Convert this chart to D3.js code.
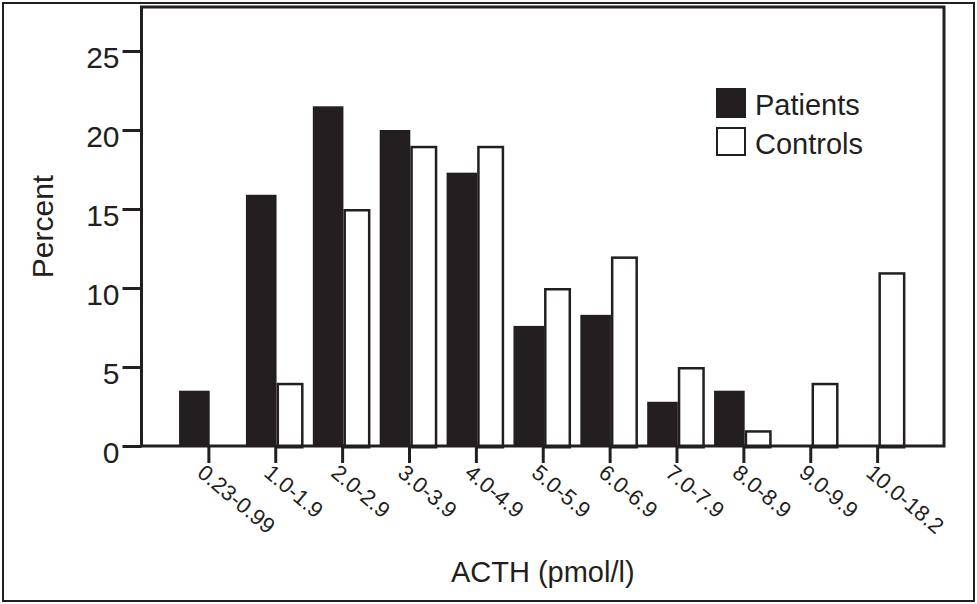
<!DOCTYPE html>
<html>
<head>
<meta charset="utf-8">
<script src="https://cdn.jsdelivr.net/npm/d3@7"></script>
<style>
  body { margin: 0; background: #fff; }
  svg { display: block; font-family: "Liberation Sans", Arial, Helvetica, sans-serif; }
</style>
</head>
<body>
<svg id="chart" width="977" height="604"></svg>
<script>
// ACTH 구간별 분포 (값은 그림에서 읽은 추정치)
const categories = ["0.23-0.99", "1.0-1.9", "2.0-2.9", "3.0-3.9", "4.0-4.9", "5.0-5.9",
                    "6.0-6.9", "7.0-7.9", "8.0-8.9", "9.0-9.9", "10.0-18.2"];
const patients = [3.5, 15.9, 21.5, 20.0, 17.3, 7.6, 8.3, 2.8, 3.5, 0, 0];
const controls = [0, 4.0, 15.0, 19.0, 19.0, 10.0, 12.0, 5.0, 1.0, 4.0, 11.0];
const seriesNames = ["Patients", "Controls"];
const yTicks = [0, 5, 10, 15, 20, 25];

const ink = "#231f20";
const svg = d3.select("#chart");

const plot = { left: 141.5, right: 944, top: 7, bottom: 446 };

const x = d3.scalePoint().domain(categories).range([plot.left, plot.right]).padding(1);
const y = d3.scaleLinear().domain([0, 25]).range([plot.bottom, 51]);

// 그룹 안에서 막대 위치 (중심 기준 오프셋)
const sub = d3.scaleOrdinal().domain(seriesNames).range([[-29.3, 1.3], [1.3, 28.3]]);

// 바깥 테두리
svg.append("rect")
    .attr("x", 3).attr("y", 3).attr("width", 971).attr("height", 598)
    .attr("fill", "none").attr("stroke", ink).attr("stroke-width", 2);

// 막대
const rows = categories.map((c, i) => ({ c, Patients: patients[i], Controls: controls[i] }));

rows.forEach(r => {
    const cx = x(r.c);
    // 환자: 검은 막대
    if (r.Patients > 0) {
        const [a, b] = sub("Patients");
        svg.append("rect")
            .attr("x", cx + a).attr("y", y(r.Patients))
            .attr("width", b - a).attr("height", y(0) - y(r.Patients))
            .attr("fill", ink);
    }
    // 대조군: 흰 막대 + 테두리
    if (r.Controls > 0) {
        const [a, b] = sub("Controls");
        const sw = 2.5;
        svg.append("rect")
            .attr("x", cx + a + sw / 2).attr("y", y(r.Controls) + sw / 2)
            .attr("width", b - a - sw).attr("height", y(0) - y(r.Controls))
            .attr("fill", "#fff").attr("stroke", ink).attr("stroke-width", sw);
    }
});

// 플롯 프레임
svg.append("rect")
    .attr("x", plot.left).attr("y", plot.top)
    .attr("width", plot.right - plot.left).attr("height", plot.bottom - plot.top)
    .attr("fill", "none").attr("stroke", ink).attr("stroke-width", 3);

// y 축
const yAxis = svg.append("g")
    .attr("transform", `translate(${plot.left},0)`)
    .call(d3.axisLeft(y).tickValues(yTicks).tickSize(19).tickPadding(3));
yAxis.select(".domain").remove();
yAxis.selectAll("line").attr("stroke", ink).attr("stroke-width", 3);
yAxis.selectAll("text")
    .attr("fill", ink).attr("font-size", "30px")
    .attr("font-family", "Liberation Sans, Arial, sans-serif")
    .attr("dy", "0.55em");

// x 축
const xAxis = svg.append("g")
    .attr("transform", `translate(0,${plot.bottom})`)
    .call(d3.axisBottom(x).tickSize(17).tickPadding(0));
xAxis.select(".domain").remove();
xAxis.selectAll("line").attr("stroke", ink).attr("stroke-width", 3);
xAxis.selectAll("text")
    .attr("fill", ink).attr("font-size", "22px")
    .attr("font-family", "Liberation Sans, Arial, sans-serif")
    .attr("x", 0).attr("y", 0).attr("dy", 0)
    .attr("text-anchor", "start")
    .attr("transform", "translate(-13,29) rotate(40)");

// 축 제목
svg.append("text")
    .attr("x", (plot.left + plot.right) / 2).attr("y", 582)
    .attr("text-anchor", "middle").attr("font-size", "29px").attr("fill", ink)
    .text("ACTH (pmol/l)");

svg.append("text")
    .attr("transform", `translate(53,${(plot.top + plot.bottom) / 2}) rotate(-90)`)
    .attr("text-anchor", "middle").attr("font-size", "30px").attr("fill", ink)
    .text("Percent");

// 범례
const legend = svg.append("g").attr("transform", "translate(716,88)");
seriesNames.forEach((name, i) => {
    const g = legend.append("g").attr("transform", `translate(0,${i * 39})`);
    if (name === "Patients") {
        g.append("rect").attr("width", 30).attr("height", 30).attr("fill", ink);
    } else {
        g.append("rect").attr("x", 1).attr("y", 1).attr("width", 28).attr("height", 27)
            .attr("fill", "#fff").attr("stroke", ink).attr("stroke-width", 2);
    }
    g.append("text")
        .attr("x", 39).attr("y", 27)
        .attr("font-size", "29px").attr("fill", ink)
        .text(name);
});
</script>
</body>
</html>
